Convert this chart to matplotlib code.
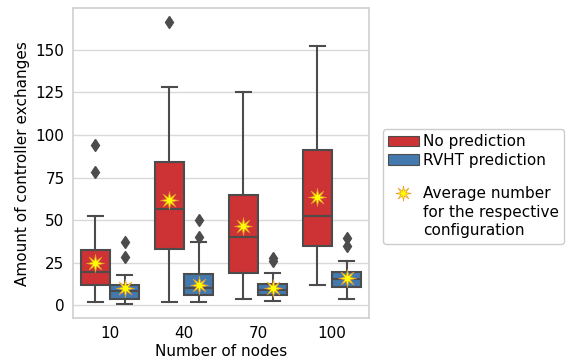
import matplotlib
matplotlib.use("Agg")
import matplotlib.pyplot as plt
from matplotlib.lines import Line2D
from matplotlib.patches import Patch
from matplotlib.path import Path
import numpy as np

NODES = [10, 40, 70, 100]
SERIES = ["No prediction", "RVHT prediction"]
MEAN_LABEL = ["Average number", "for the respective", "configuration"]

# per-group stats (whislo, q1, median, q3, whishi)
NOPRED_WHISLO = [1.8, 1.8, 3.9, 12.0]
NOPRED_Q1 = [11.8, 32.9, 19.2, 34.7]
NOPRED_MED = [19.4, 56.5, 40.4, 52.2]
NOPRED_Q3 = [32.2, 83.9, 64.9, 91.2]
NOPRED_WHISHI = [52.2, 128.0, 125.1, 152.2]
NOPRED_MEAN = [24.9, 62.0, 46.3, 63.3]
NOPRED_FLIERS = [[94.3, 78.2], [166.5], [], []]

RVHT_WHISLO = [1.0, 1.8, 2.7, 3.9]
RVHT_Q1 = [3.9, 5.9, 5.9, 10.8]
RVHT_MED = [8.6, 10.0, 9.0, 15.5]
RVHT_Q3 = [12.0, 18.6, 12.7, 19.8]
RVHT_WHISHI = [17.8, 37.0, 19.0, 26.1]
RVHT_MEAN = [10.0, 12.2, 10.0, 16.1]
RVHT_FLIERS = [[37.3, 28.2], [50.2, 40.2], [27.8, 25.9], [39.8, 34.7]]

RED = "#cd3234"
BLUE = "#4479ae"
LINE = "#4c4c4c"


def make_stats(lo, q1, med, q3, hi, mean, fliers):
    return [dict(whislo=a, q1=b, med=c, q3=d, whishi=e, mean=f, fliers=g)
            for a, b, c, d, e, f, g in zip(lo, q1, med, q3, hi, mean, fliers)]


groups = [
    make_stats(NOPRED_WHISLO, NOPRED_Q1, NOPRED_MED, NOPRED_Q3, NOPRED_WHISHI,
               NOPRED_MEAN, NOPRED_FLIERS),
    make_stats(RVHT_WHISLO, RVHT_Q1, RVHT_MED, RVHT_Q3, RVHT_WHISHI,
               RVHT_MEAN, RVHT_FLIERS),
]
colors = [RED, BLUE]

# thin 8-point starburst for the means
star = Path.unit_regular_star(8, innerCircle=0.33)

fig = plt.figure(figsize=(5.74, 3.64), dpi=100)
ax = fig.add_axes([0.127, 0.126, 0.516, 0.852])

x = np.arange(len(NODES))
mean_kw = dict(marker=star, markerfacecolor="yellow",
               markeredgecolor="#e89a30", markeredgewidth=0.5, markersize=13)
for i, stats in enumerate(groups):
    pos = x - 0.2 + i * 0.4
    ax.bxp(stats, positions=pos, widths=0.39, patch_artist=True,
           showmeans=True, meanprops=mean_kw,
           boxprops=dict(facecolor=colors[i], edgecolor=LINE, linewidth=1.5),
           medianprops=dict(color=LINE, linewidth=1.5),
           whiskerprops=dict(color=LINE, linewidth=1.5),
           capprops=dict(color=LINE, linewidth=1.5),
           flierprops=dict(marker="d", markerfacecolor=LINE, markeredgecolor=LINE,
                           markersize=6),
           capwidths=0.2, manage_ticks=False, zorder=2)

ax.set_xlim(-0.5, 3.5)
ax.set_ylim(-7.5, 174.5)
ax.set_xticks(x)
ax.set_xticklabels([str(n) for n in NODES])
ax.set_yticks(np.arange(0, 151, 25))
ax.tick_params(axis="both", labelsize=11, length=0, pad=6)
ax.set_xlabel("Number of nodes", fontsize=11, labelpad=2)
ax.set_ylabel("Amount of controller exchanges", fontsize=11, labelpad=4)
ax.yaxis.grid(True, color="#d9d9d9", linewidth=1)
ax.set_axisbelow(True)
for s in ax.spines.values():
    s.set_color("#d0d0d0")
    s.set_linewidth(1.2)

blank = Line2D([], [], linestyle="none")
handles = [
    Patch(facecolor=RED, edgecolor=LINE, linewidth=0.8),
    Patch(facecolor=BLUE, edgecolor=LINE, linewidth=0.8),
    blank,
    Line2D([], [], linestyle="none", **dict(mean_kw, markersize=11)),
    blank,
    blank,
]
labels = [SERIES[0], SERIES[1], " ", MEAN_LABEL[0], MEAN_LABEL[1], MEAN_LABEL[2]]
leg = ax.legend(handles, labels, loc="center left", bbox_to_anchor=(1.02, 0.425),
                fontsize=11, handlelength=2.0, handletextpad=0.3,
                labelspacing=0.24, borderpad=0.35, framealpha=1,
                edgecolor="#cccccc")
# shrink the spacer row between the two groups
leg.get_texts()[2].set_fontsize(1)

fig.savefig("out.png", dpi=100)
